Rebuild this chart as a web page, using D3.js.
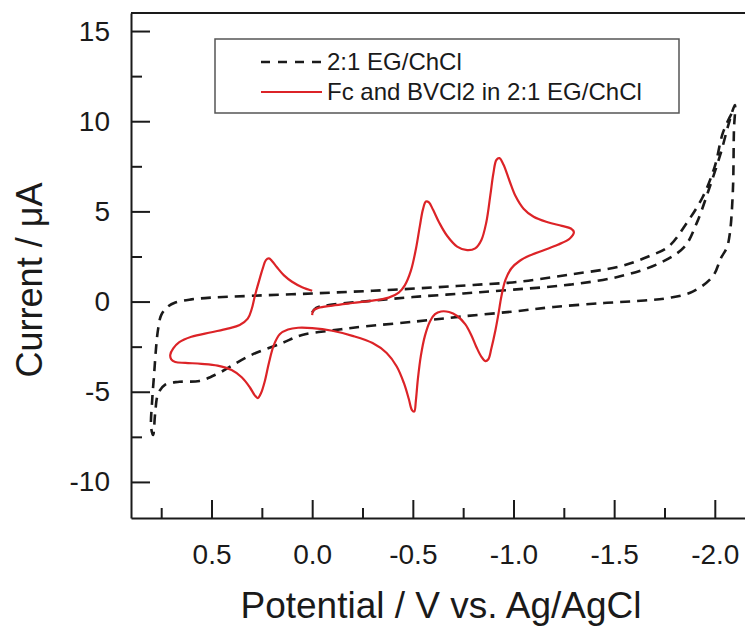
<!DOCTYPE html>
<html>
<head>
<meta charset="utf-8">
<script src="https://cdn.jsdelivr.net/npm/d3@7"></script>
<style>
  body { margin: 0; background: #fff; }
  svg { display: block; font-family: "Liberation Sans", Arial, sans-serif; }
</style>
</head>
<body>
<div id="chart"></div>
<script>
// Blank electrolyte: scan 0 V -> -2.1 V -> +0.8 V -> -2.1 V
const blankPotential = [
    0.0, -0.02, -0.1, -0.3, -0.5, -0.75, -1.0, -1.28, -1.53, -1.73, -1.85, -1.91, -1.97, -2.03, -2.07, -2.1,
    -2.095, -2.09, -2.075, -2.06, -2.03, -1.99, -1.89, -1.77, -1.65, -1.45, -1.2, -1.0, -0.75, -0.52, -0.26, -0.1,
    0.05, 0.15, 0.31, 0.47, 0.56, 0.66, 0.73, 0.765, 0.78, 0.79,
    0.8, 0.795, 0.785, 0.775, 0.765, 0.75, 0.72, 0.68, 0.6, 0.5, 0.3, 0.0, -0.3, -0.6, -0.8, -1.03,
    -1.28, -1.53, -1.67, -1.77, -1.86, -1.94, -2.0, -2.04, -2.09, -2.1
];
const blankCurrent = [
    -0.6, -0.35, -0.17, 0.05, 0.25, 0.45, 0.66, 0.94, 1.4, 2.15, 3.05, 4.35, 6.2, 8.25, 9.9, 10.9,
    9.5, 6.2, 3.8, 3.0, 2.4, 1.4, 0.55, 0.2, 0.06, -0.08, -0.3, -0.55, -0.82, -1.1, -1.38, -1.6,
    -1.85, -2.3, -3.0, -4.0, -4.4, -4.45, -4.6, -5.1, -6.2, -7.4,
    -7.0, -5.5, -4.0, -2.5, -1.5, -0.75, -0.3, -0.05, 0.12, 0.22, 0.32, 0.45, 0.6, 0.78, 0.92, 1.1,
    1.5, 1.95, 2.5, 3.05, 4.35, 5.8, 7.5, 9.35, 10.6, 10.9
];

// Fc and BVCl2: scan 0 V -> -1.3 V -> +0.7 V -> 0 V
const redPotential = [
    0.0, -0.005, -0.03, -0.1, -0.2, -0.3, -0.38, -0.43, -0.46, -0.49, -0.515, -0.535, -0.55, -0.565, -0.58,
    -0.6, -0.63, -0.67, -0.72, -0.77, -0.81, -0.84, -0.865, -0.885, -0.9, -0.915, -0.93, -0.95, -0.98, -1.01,
    -1.05, -1.1, -1.17, -1.24, -1.285, -1.3, -1.28, -1.22, -1.15, -1.08, -1.03, -0.99, -0.96, -0.94, -0.925,
    -0.91, -0.89, -0.875, -0.86, -0.84, -0.815, -0.79, -0.76, -0.72, -0.68, -0.64, -0.61, -0.585, -0.56, -0.54,
    -0.525, -0.515, -0.507, -0.495, -0.48, -0.455, -0.42, -0.37, -0.3, -0.2, -0.1, 0.0, 0.07, 0.12, 0.16,
    0.19, 0.215, 0.235, 0.255, 0.27, 0.285, 0.31, 0.35, 0.4, 0.47, 0.55, 0.63, 0.68, 0.7, 0.705,
    0.69, 0.66, 0.6, 0.5, 0.42, 0.36, 0.32, 0.3, 0.285, 0.265, 0.245, 0.23, 0.215, 0.2, 0.175,
    0.14, 0.1, 0.05, 0.0
];
const redCurrent = [
    -0.75, -0.5, -0.35, -0.22, -0.08, 0.05, 0.22, 0.5, 0.9, 1.7, 2.9, 4.2, 5.1, 5.55, 5.5,
    5.1, 4.4, 3.65, 3.05, 2.85, 2.95, 3.4, 4.4, 5.9, 7.1, 7.85, 7.95, 7.6, 6.7, 5.85,
    5.15, 4.7, 4.4, 4.2, 4.05, 3.85, 3.5, 3.15, 2.85, 2.55, 2.25, 1.85, 1.2, 0.3, -0.7,
    -1.6, -2.6, -3.2, -3.3, -3.05, -2.5, -1.85, -1.25, -0.8, -0.58, -0.55, -0.7, -1.1, -1.9, -3.0,
    -4.3, -5.5, -6.1, -6.0, -5.4, -4.5, -3.6, -2.85, -2.3, -1.9, -1.62, -1.47, -1.45, -1.55, -1.8,
    -2.4, -3.4, -4.4, -5.1, -5.35, -5.2, -4.75, -4.2, -3.8, -3.55, -3.45, -3.4, -3.35, -3.2, -2.95,
    -2.6, -2.25, -1.95, -1.7, -1.5, -1.3, -0.95, -0.4, 0.3, 1.1, 1.85, 2.3, 2.4, 2.25, 1.9,
    1.45, 1.1, 0.8, 0.6
];

const xTicks = [0.5, 0.0, -0.5, -1.0, -1.5, -2.0];
const xMinorTicks = [0.75, 0.25, -0.25, -0.75, -1.25, -1.75];
const yTicks = [-10, -5, 0, 5, 10, 15];
const yMinorTicks = [-7.5, -2.5, 2.5, 7.5, 12.5];

const legendLabels = ["2:1 EG/ChCl", "Fc and BVCl2 in 2:1 EG/ChCl"];

const width = 745;
const height = 628;
const marginTop = 13;
const marginRight = 0;
const marginBottom = 110;
const marginLeft = 131;

const red = "#dc2327";
const ink = "#1a1a1a";

const x = d3.scaleLinear([0.9, -2.15], [marginLeft, width - marginRight]);
const y = d3.scaleLinear([-12, 16], [height - marginBottom, marginTop]);

const svg = d3.select("#chart").append("svg")
    .attr("width", width)
    .attr("height", height)
    .attr("viewBox", [0, 0, width, height]);

// Top frame line (chart is cropped on the right)
svg.append("line")
    .attr("x1", marginLeft).attr("x2", width)
    .attr("y1", marginTop).attr("y2", marginTop)
    .attr("stroke", ink)
    .attr("stroke-width", 2);

// Axes: ticks point into the plot
const xAxis = svg.append("g")
    .attr("transform", `translate(0,${height - marginBottom})`)
    .call(d3.axisBottom(x).tickValues(xTicks).tickSizeInner(-18).tickSizeOuter(0)
        .tickPadding(26).tickFormat(d => d.toFixed(1)));

svg.append("g")
    .attr("transform", `translate(0,${height - marginBottom})`)
    .call(d3.axisBottom(x).tickValues(xMinorTicks).tickSizeInner(-10).tickSizeOuter(0).tickFormat(""))
    .call(g => g.select(".domain").remove());

const yAxis = svg.append("g")
    .attr("transform", `translate(${marginLeft},0)`)
    .call(d3.axisLeft(y).tickValues(yTicks).tickSizeInner(-19).tickSizeOuter(0)
        .tickPadding(21).tickFormat(d => String(d)));

svg.append("g")
    .attr("transform", `translate(${marginLeft},0)`)
    .call(d3.axisLeft(y).tickValues(yMinorTicks).tickSizeInner(-11).tickSizeOuter(0).tickFormat(""))
    .call(g => g.select(".domain").remove());

svg.selectAll(".domain, .tick line")
    .attr("stroke", ink)
    .attr("stroke-width", 2);

svg.selectAll(".tick text")
    .attr("font-size", 28)
    .attr("fill", ink)
    .attr("font-family", "Liberation Sans, Arial, sans-serif");

// Axis titles
svg.append("text")
    .attr("x", 441)
    .attr("y", 618)
    .attr("text-anchor", "middle")
    .attr("font-size", 37)
    .attr("fill", ink)
    .text("Potential / V vs. Ag/AgCl");

svg.append("text")
    .attr("transform", "translate(42,280) rotate(-90)")
    .attr("text-anchor", "middle")
    .attr("font-size", 36)
    .attr("fill", ink)
    .text("Current / \u03bcA");

// Curves
const line = d3.line()
    .x(([p]) => x(p))
    .y(([, c]) => y(c))
    .curve(d3.curveCatmullRom.alpha(0.5));

svg.append("path")
    .attr("fill", "none")
    .attr("stroke", ink)
    .attr("stroke-width", 2.6)
    .attr("stroke-dasharray", "10,7")
    .attr("d", line(d3.zip(blankPotential, blankCurrent)));

svg.append("path")
    .attr("fill", "none")
    .attr("stroke", red)
    .attr("stroke-width", 2.2)
    .attr("stroke-linejoin", "round")
    .attr("d", line(d3.zip(redPotential, redCurrent)));

// Legend
const legend = svg.append("g");

legend.append("rect")
    .attr("x", 215)
    .attr("y", 39)
    .attr("width", 464)
    .attr("height", 74)
    .attr("fill", "#fff")
    .attr("stroke", "#555")
    .attr("stroke-width", 1.5);

const legendStyles = [
    { stroke: ink, dash: "9,8", width: 2.6 },
    { stroke: red, dash: null, width: 2.2 }
];

legendLabels.forEach((label, i) => {
    const ly = 62 + i * 30;
    legend.append("line")
        .attr("x1", 261).attr("x2", 322)
        .attr("y1", ly).attr("y2", ly)
        .attr("stroke", legendStyles[i].stroke)
        .attr("stroke-width", legendStyles[i].width)
        .attr("stroke-dasharray", legendStyles[i].dash);
    legend.append("text")
        .attr("x", 327)
        .attr("y", ly + 8)
        .attr("font-size", 24)
        .attr("fill", ink)
        .text(label);
});
</script>
</body>
</html>
